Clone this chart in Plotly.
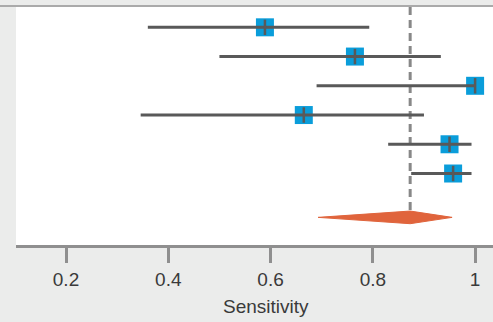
import plotly.graph_objects as go

# ---- data ----
rows = [1, 2, 3, 4, 5, 6]
estimate = [0.589, 0.765, 1.0, 0.665, 0.950, 0.957]
ci_low = [0.360, 0.500, 0.690, 0.346, 0.830, 0.875]
ci_high = [0.793, 0.933, 1.0, 0.900, 0.993, 0.993]
pooled_row = 7.5
pooled_est = 0.873
pooled_low = 0.693
pooled_high = 0.955
tick_vals = [0.2, 0.4, 0.6, 0.8, 1.0]
tick_text = ["0.2", "0.4", "0.6", "0.8", "1"]
x_title = "Sensitivity"

# ---- styles ----
BG = "#ebeceb"
SQ = "#0a9dda"
LN = "#595959"
DIA = "#e0643c"
AX = "#8f8f8f"
FONT = "Liberation Sans"
TXT = "#3a3a3a"
dh = 0.216  # diamond half-height (row units)

fig = go.Figure()

# squares
fig.add_trace(go.Scatter(x=estimate, y=rows, mode="markers",
                         marker=dict(symbol="square", size=18, color=SQ, line=dict(width=0)),
                         hoverinfo="skip", showlegend=False))
# CI lines
xs, ys = [], []
for lo, hi, r in zip(ci_low, ci_high, rows):
    xs += [lo, hi, None]
    ys += [r, r, None]
fig.add_trace(go.Scatter(x=xs, y=ys, mode="lines", line=dict(color=LN, width=3),
                         hoverinfo="skip", showlegend=False))
# estimate ticks
fig.add_trace(go.Scatter(x=estimate, y=rows, mode="markers",
                         marker=dict(symbol="line-ns", size=11, line=dict(color=LN, width=2.5)),
                         hoverinfo="skip", showlegend=False))
# diamond
fig.add_trace(go.Scatter(
    x=[pooled_low, pooled_est, pooled_high, pooled_est, pooled_low],
    y=[pooled_row, pooled_row - dh, pooled_row, pooled_row + dh, pooled_row],
    mode="lines", fill="toself", fillcolor=DIA, line=dict(color=DIA, width=1),
    hoverinfo="skip", showlegend=False))

# dashed pooled line
fig.add_shape(type="line", xref="x", yref="y", x0=pooled_est, x1=pooled_est,
              y0=0.305, y1=pooled_row - dh, line=dict(color="#888888", width=3, dash="8px,5px"),
              layer="below")
# top border line
fig.add_shape(type="line", xref="paper", yref="paper", x0=-0.04, x1=1,
              y0=1.004, y1=1.004, line=dict(color="#aaaaaa", width=2))

# axis title
fig.add_annotation(text=x_title, xref="paper", yref="paper", x=0.524, y=-0.26,
                   xanchor="center", yanchor="middle", showarrow=False,
                   font=dict(family=FONT, size=19, color=TXT))

fig.update_layout(
    width=493, height=322,
    margin=dict(l=16, r=0, t=7, b=77),
    paper_bgcolor=BG, plot_bgcolor="white",
    font=dict(family=FONT, size=19, color=TXT),
    xaxis=dict(range=[0.1022, 1.035], tickvals=tick_vals, ticktext=tick_text,
               showgrid=False, zeroline=False, showline=True, linecolor=AX, linewidth=3,
               ticks="outside", ticklen=15, tickwidth=3, tickcolor=AX,
               tickfont=dict(family=FONT, size=19, color=TXT),
               fixedrange=True),
    yaxis=dict(range=[8.445, 0.305], visible=False, showgrid=False, zeroline=False,
               fixedrange=True),
)

fig.write_html("out.html")
